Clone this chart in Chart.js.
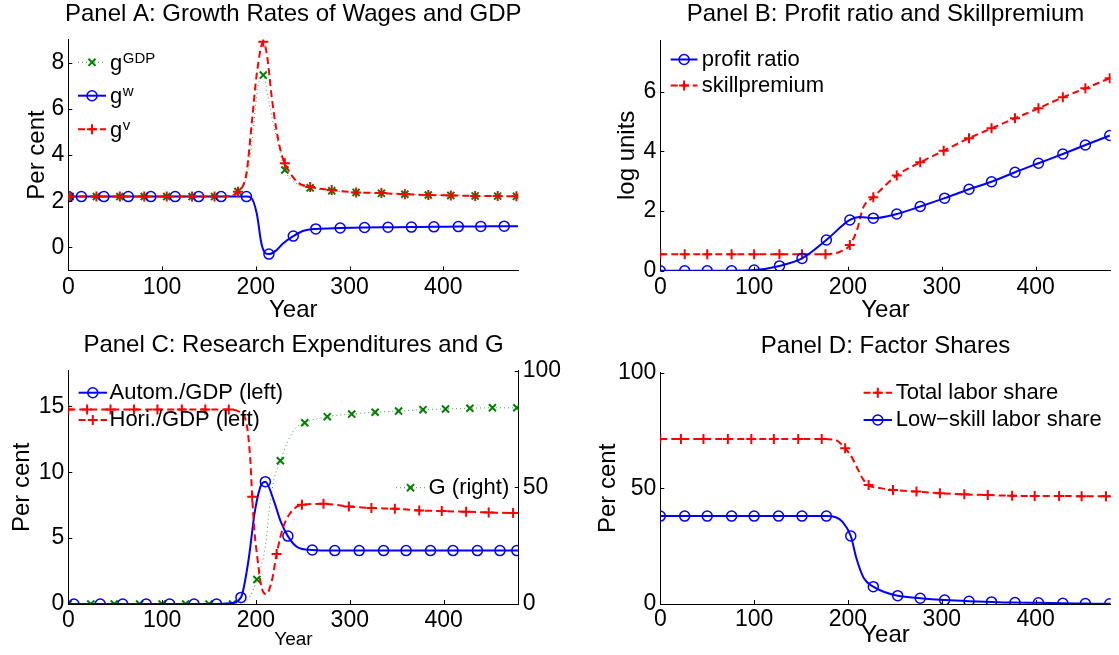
<!DOCTYPE html>
<html>
<head>
<meta charset="utf-8">
<script src="https://cdn.jsdelivr.net/npm/chart.js@4.4.0/dist/chart.umd.min.js"></script>
<style>
  html, body { margin: 0; padding: 0; background: #fff; }
  body { width: 1119px; height: 655px; position: relative; overflow: hidden; }
  canvas { position: absolute; left: 0; top: 0; }
</style>
</head>
<body>
<canvas id="pA" width="1119" height="655"></canvas>
<canvas id="pB" width="1119" height="655"></canvas>
<canvas id="pC" width="1119" height="655"></canvas>
<canvas id="pD" width="1119" height="655"></canvas>
<script>
// ---- data ----
const xTicks = [0, 100, 200, 300, 400];

// Panel A: growth rates (per cent)
const aGdpYears = [0, 2, 30, 55, 81, 105, 132, 156, 170, 181, 190, 196, 202, 208, 213, 219, 226, 231, 244, 258, 281, 307, 334, 359, 384, 408, 434, 458, 478, 480];
const aGdp      = [2.2, 2.2, 2.2, 2.2, 2.2, 2.2, 2.2, 2.2, 2.22, 2.42, 3.0, 4.6, 6.9, 7.46, 6.5, 5.3, 4.1, 3.35, 2.75, 2.58, 2.45, 2.38, 2.34, 2.3, 2.27, 2.25, 2.23, 2.22, 2.21, 2.21];
const aGdpMarks = [2, 30, 55, 81, 105, 132, 156, 181, 208, 231, 258, 281, 307, 334, 359, 384, 408, 434, 458, 478];
const aVYears   = [0, 2, 30, 55, 81, 105, 132, 156, 170, 181, 190, 196, 201, 208, 212, 217, 222, 227, 231, 244, 258, 281, 307, 334, 359, 384, 408, 434, 458, 478, 480];
const aV        = [2.2, 2.2, 2.2, 2.2, 2.2, 2.2, 2.2, 2.2, 2.22, 2.41, 3.2, 5.5, 7.5, 8.9, 8.3, 6.5, 5.1, 4.1, 3.64, 2.84, 2.62, 2.48, 2.38, 2.35, 2.3, 2.27, 2.25, 2.23, 2.22, 2.21, 2.21];
const aVMarks   = aGdpMarks;
const aWYears   = [0, 14, 38, 64, 88, 114, 139, 163, 190, 195, 201, 206, 210, 214, 222, 229, 240, 251, 264, 290, 316, 341, 366, 390, 416, 440, 465, 480];
const aW        = [2.2, 2.2, 2.2, 2.2, 2.2, 2.2, 2.2, 2.2, 2.2, 2.15, 1.47, 0.17, -0.24, -0.29, -0.12, 0.17, 0.49, 0.72, 0.80, 0.84, 0.86, 0.87, 0.88, 0.89, 0.90, 0.91, 0.92, 0.92];
const aWMarks   = [0, 14, 38, 64, 88, 114, 139, 163, 190, 214, 240, 264, 290, 316, 341, 366, 390, 416, 440, 465];
const aYTicks   = [0, 2, 4, 6, 8];

// Panel B: log units
const bProfitYears = [0, 26, 50, 76, 100, 127, 151, 177, 202, 212, 227, 252, 277, 303, 329, 353, 378, 403, 429, 453, 479];
const bProfit      = [0, 0, 0, 0, 0.02, 0.16, 0.41, 1.03, 1.70, 1.80, 1.76, 1.90, 2.15, 2.43, 2.73, 2.98, 3.30, 3.60, 3.91, 4.21, 4.53];
const bProfitMarks = [0, 26, 50, 76, 100, 127, 151, 177, 202, 227, 252, 277, 303, 329, 353, 378, 403, 429, 453, 479];
const bSkillYears  = [0, 26, 50, 76, 100, 127, 151, 176, 190, 202, 210, 216, 227, 252, 277, 302, 329, 353, 378, 403, 429, 453, 479];
const bSkill       = [0.55, 0.55, 0.55, 0.55, 0.55, 0.55, 0.55, 0.55, 0.62, 0.86, 1.4, 2.1, 2.46, 3.19, 3.63, 4.02, 4.44, 4.77, 5.11, 5.44, 5.81, 6.11, 6.45];
const bSkillMarks  = [0, 26, 50, 76, 100, 127, 151, 176, 202, 227, 252, 277, 302, 329, 353, 378, 403, 429, 453, 479];
const bYTicks      = [0, 2, 4, 6];

// Panel C: research expenditures (per cent, left) and G (right)
const cAutYears  = [0, 6, 34, 58, 83, 108, 134, 158, 172, 184, 192, 199, 206, 210, 219, 226, 234, 244, 260, 284, 310, 336, 360, 386, 410, 436, 460, 478, 480];
const cAut       = [0, 0, 0, 0, 0, 0, 0, 0, 0.05, 0.5, 3.3, 7.1, 9.1, 9.28, 7.85, 6.33, 5.15, 4.32, 4.1, 4.05, 4.05, 4.05, 4.05, 4.05, 4.05, 4.05, 4.05, 4.05, 4.05];
const cAutMarks  = [6, 34, 58, 83, 108, 134, 158, 184, 210, 234, 260, 284, 310, 336, 360, 386, 410, 436, 460, 478];
const cHorYears  = [0, 20, 45, 70, 95, 121, 146, 171, 182, 190, 194, 196, 198, 201, 206, 211, 217, 222, 229, 236, 249, 272, 299, 323, 348, 374, 398, 424, 448, 474, 480];
const cHor       = [14.75, 14.75, 14.75, 14.75, 14.75, 14.75, 14.75, 14.75, 14.6, 13.66, 10.9, 8.14, 5.83, 3.8, 1.26, 0.76, 1.79, 3.8, 5.82, 6.85, 7.53, 7.6, 7.4, 7.28, 7.23, 7.1, 7.05, 7.0, 6.95, 6.9, 6.9];
const cHorMarks  = [0, 20, 45, 70, 95, 121, 146, 171, 196, 222, 249, 272, 299, 323, 348, 374, 398, 424, 448, 474];
const cGYears    = [0, 24, 49, 76, 100, 125, 150, 175, 186, 194, 201, 210, 215, 220, 226, 233, 242, 252, 276, 302, 327, 352, 378, 402, 428, 452, 478, 480];
const cG         = [0, 0, 0, 0, 0, 0, 0, 0, 0.3, 3.5, 10.5, 24.6, 43.2, 54.6, 61.4, 68.9, 75.3, 77.7, 80.3, 81.4, 82.2, 82.7, 83.3, 83.6, 83.9, 84.1, 84.1, 84.1];
const cGMarks    = [0, 24, 49, 76, 100, 125, 150, 175, 201, 226, 252, 276, 302, 327, 352, 378, 402, 428, 452, 478];
const cYTicks    = [0, 5, 10, 15];
const cY2Ticks   = [0, 50, 100];

// Panel D: factor shares (per cent)
const dTotYears  = [0, 22, 46, 72, 97, 121, 147, 172, 186, 197, 204, 210, 216, 222, 235, 248, 273, 298, 324, 349, 375, 399, 425, 449, 475, 480];
const dTot       = [71.3, 71.3, 71.3, 71.3, 71.3, 71.3, 71.3, 71.3, 71, 67.3, 63.5, 58.7, 54, 51.4, 50.1, 49.3, 48.6, 47.9, 47.4, 47.1, 46.8, 46.7, 46.7, 46.6, 46.6, 46.6];
const dTotMarks  = [0, 22, 46, 72, 97, 121, 147, 172, 197, 222, 248, 273, 298, 324, 349, 375, 399, 425, 449, 475];
const dLowYears  = [0, 26, 50, 76, 100, 126, 151, 177, 187, 194, 203, 209, 217, 227, 238, 253, 277, 303, 329, 353, 378, 403, 429, 453, 479, 480];
const dLow       = [38, 38, 38, 38, 38, 38, 38, 38, 37.5, 35.6, 29.4, 19.8, 11.1, 7.5, 5.3, 3.6, 2.5, 1.7, 1.2, 0.9, 0.6, 0.5, 0.3, 0.2, 0.1, 0.1];
const dLowMarks  = [0, 26, 50, 76, 100, 126, 151, 177, 203, 227, 253, 277, 303, 329, 353, 378, 403, 429, 453, 479];
const dYTicks    = [0, 50, 100];

// ---- styles ----
const FONT = '"Liberation Sans", Arial, Helvetica, sans-serif';
const STYLES = {
  blue:  { line: '#0000ff', lw: 2, dash: [], pt: 'circle', pc: '#0000ff', pw: 1.5, r: 5 },
  red:   { line: '#ff0000', lw: 2, dash: [7, 4], pt: 'cross', pc: '#ff0000', pw: 2, r: 5 },
  green: { line: '#3aa63a', lw: 1, dash: [1, 3], pt: 'crossRot', pc: '#008000', pw: 2, r: 5 }
};

function ds(xs, ys, marks, kind, axis) {
  const st = STYLES[kind];
  return {
    data: xs.map((x, i) => ({ x: x, y: ys[i] })),
    yAxisID: axis || 'y',
    borderColor: st.line, borderWidth: st.lw, borderDash: st.dash,
    pointStyle: st.pt, pointBorderColor: st.pc, pointBorderWidth: st.pw,
    pointBackgroundColor: 'rgba(0,0,0,0)',
    pointRadius: c => (c.raw && marks.includes(c.raw.x)) ? st.r : 0,
    pointHoverRadius: 0,
    cubicInterpolationMode: 'monotone', fill: false
  };
}

function xScale(h, tickPad, titleSize, titlePad) {
  return {
    type: 'linear', min: 0, max: 480,
    afterBuildTicks: s => { s.ticks = xTicks.map(v => ({ value: v })); },
    afterFit: s => { s.height = h; },
    grid: { display: true, drawOnChartArea: false, drawTicks: false },
    border: { display: true, color: '#000', width: 1 },
    ticks: { color: '#000', padding: tickPad, autoSkip: false, maxRotation: 0, font: { size: 23, family: FONT } },
    title: { display: true, text: 'Year', color: '#000', font: { size: titleSize, family: FONT }, padding: { top: 0, bottom: titlePad } }
  };
}

function yScale(pos, min, max, vals, w, title, titlePad) {
  return {
    type: 'linear', position: pos, min: min, max: max,
    afterBuildTicks: s => { s.ticks = vals.map(v => ({ value: v })); },
    afterFit: s => { s.width = w; },
    grid: { display: true, drawOnChartArea: false, drawTicks: false },
    border: { display: true, color: '#000', width: 1 },
    ticks: { color: '#000', padding: 4, autoSkip: false, font: { size: 23, family: FONT } },
    title: { display: !!title, text: title || '', color: '#000', font: { size: 24, family: FONT }, padding: { top: titlePad, bottom: 0 } }
  };
}

function drawMarker(ctx, st, x, y) {
  ctx.save();
  ctx.strokeStyle = st.pc; ctx.lineWidth = st.pw; ctx.setLineDash([]);
  ctx.beginPath();
  if (st.pt === 'circle') {
    ctx.arc(x, y, st.r, 0, Math.PI * 2);
  } else if (st.pt === 'cross') {
    ctx.moveTo(x - st.r, y); ctx.lineTo(x + st.r, y);
    ctx.moveTo(x, y - st.r); ctx.lineTo(x, y + st.r);
  } else {
    const o = st.r * Math.SQRT1_2;
    ctx.moveTo(x - o, y - o); ctx.lineTo(x + o, y + o);
    ctx.moveTo(x - o, y + o); ctx.lineTo(x + o, y - o);
  }
  ctx.stroke();
  ctx.restore();
}

// titles, legends and the inward tick marks
function deco(d) {
  return {
    id: 'deco',
    afterDraw(chart) {
      const ctx = chart.ctx;
      ctx.save();
      // ticks point into the axes
      ctx.strokeStyle = '#000'; ctx.lineWidth = 1;
      Object.values(chart.scales).forEach(s => {
        s.ticks.forEach(t => {
          const p = Math.round(s.getPixelForValue(t.value)) + 0.5;
          ctx.beginPath();
          if (s.axis === 'x') { ctx.moveTo(p, s.top); ctx.lineTo(p, s.top - 4); }
          else if (s.position === 'left') { ctx.moveTo(s.right, p); ctx.lineTo(s.right + 4, p); }
          else { ctx.moveTo(s.left, p); ctx.lineTo(s.left - 4, p); }
          ctx.stroke();
        });
      });
      // title
      ctx.fillStyle = '#000';
      ctx.font = '24px ' + FONT;
      ctx.textAlign = 'center'; ctx.textBaseline = 'alphabetic';
      ctx.fillText(d.title, d.tx, d.ty);
      // legend
      d.legend.forEach(it => {
        const st = STYLES[it.kind];
        ctx.save();
        ctx.strokeStyle = st.line; ctx.lineWidth = st.lw; ctx.setLineDash(st.dash);
        ctx.beginPath(); ctx.moveTo(it.x1, it.y); ctx.lineTo(it.x2, it.y); ctx.stroke();
        ctx.restore();
        drawMarker(ctx, st, (it.x1 + it.x2) / 2, it.y);
        ctx.fillStyle = '#000';
        ctx.font = '22px ' + FONT; ctx.textAlign = 'left';
        ctx.fillText(it.text, it.tx, it.y + (it.dy || 6.4));
        if (it.sup) {
          const w = ctx.measureText(it.text).width;
          ctx.font = '15px ' + FONT;
          ctx.fillText(it.sup, it.tx + w + 0.5, it.y + 0.5);
        }
      });
      ctx.restore();
    }
  };
}

function panel(id, datasets, pad, scales, d) {
  return new Chart(document.getElementById(id), {
    type: 'line',
    data: { datasets: datasets },
    options: {
      responsive: false, animation: false, devicePixelRatio: 1,
      layout: { padding: pad },
      plugins: { legend: { display: false }, tooltip: { enabled: false } },
      scales: scales
    },
    plugins: [deco(d)]
  });
}

// Panel A
panel('pA',
  [ds(aVYears, aV, aVMarks, 'red'), ds(aWYears, aW, aWMarks, 'blue'), ds(aGdpYears, aGdp, aGdpMarks, 'green')],
  { left: 8.3, right: 600.7, top: 39.5, bottom: 324.5 },
  { x: xScale(60, 3, 24, 6.1), y: yScale('left', -1, 9, aYTicks, 60, 'Per cent', 14.3) },
  { title: 'Panel A: Growth Rates of Wages and GDP', tx: 293.3, ty: 20.7,
    legend: [
      { kind: 'green', x1: 78, x2: 106, y: 62.3, tx: 110, text: 'g', sup: 'GDP', dy: 7.4 },
      { kind: 'blue',  x1: 78, x2: 106, y: 95.7, tx: 110, text: 'g', sup: 'w', dy: 7.4 },
      { kind: 'red',   x1: 78, x2: 106, y: 129.3, tx: 110, text: 'g', sup: 'v', dy: 7.4 }
    ] });

// Panel B
panel('pB',
  [ds(bProfitYears, bProfit, bProfitMarks, 'blue'), ds(bSkillYears, bSkill, bSkillMarks, 'red')],
  { left: 600.3, right: 8.3, top: 40, bottom: 324.3 },
  { x: xScale(60, 3, 24, 6.3), y: yScale('left', 0, 7.73, bYTicks, 60, 'log units', 12.3) },
  { title: 'Panel B: Profit ratio and Skillpremium', tx: 885.5, ty: 20.7,
    legend: [
      { kind: 'blue', x1: 670.7, x2: 697.5, y: 59.5, tx: 701.8, text: 'profit ratio' },
      { kind: 'red',  x1: 670.7, x2: 697.5, y: 85.5, tx: 701.8, text: 'skillpremium' }
    ] });

// Panel C
panel('pC',
  [ds(cHorYears, cHor, cHorMarks, 'red'), ds(cAutYears, cAut, cAutMarks, 'blue'), ds(cGYears, cG, cGMarks, 'green', 'y2')],
  { left: 8.3, right: 540.3, top: 370.7, bottom: 1 },
  { x: xScale(50, 3, 19, 2.6),
    y: yScale('left', 0, 17.7, cYTicks, 60, 'Per cent', 0),
    y2: yScale('right', 0, 100, cY2Ticks, 60, '', 0) },
  { title: 'Panel C: Research Expenditures and G', tx: 293.5, ty: 351.7,
    legend: [
      { kind: 'blue',  x1: 78.6, x2: 107, y: 392.7, tx: 109.5, text: 'Autom./GDP (left)' },
      { kind: 'red',   x1: 78.6, x2: 107, y: 420, tx: 109.5, text: 'Hori./GDP (left)' },
      { kind: 'green', x1: 396, x2: 425, y: 487.7, tx: 428.6, text: 'G (right)' }
    ] });

// Panel D
panel('pD',
  [ds(dTotYears, dTot, dTotMarks, 'red'), ds(dLowYears, dLow, dLowMarks, 'blue')],
  { left: 590.3, right: 8.3, top: 372.7, bottom: 1 },
  { x: xScale(50, 2, 24, 3.8), y: yScale('left', 0, 100, dYTicks, 70, 'Per cent', 3.3) },
  { title: 'Panel D: Factor Shares', tx: 885.5, ty: 353.3,
    legend: [
      { kind: 'red',  x1: 863.6, x2: 892, y: 392.7, tx: 895.7, text: 'Total labor share' },
      { kind: 'blue', x1: 863.6, x2: 892, y: 420, tx: 895.7, text: 'Low\u2212skill labor share' }
    ] });
</script>
</body>
</html>
